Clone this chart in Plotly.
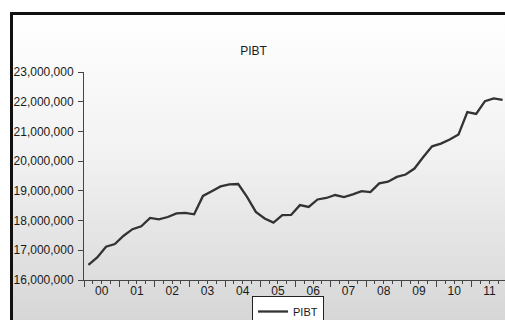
import base64
import plotly.graph_objects as go

# ---- data (quarterly, 2000Q1 - 2011Q4) ----
years = list(range(2000, 2012))
quarters = [1, 2, 3, 4]
pibt = [
    16510000, 16760000, 17120000, 17210000,   # 2000
    17490000, 17710000, 17810000, 18090000,   # 2001
    18040000, 18120000, 18240000, 18260000,   # 2002
    18210000, 18830000, 18990000, 19150000,   # 2003
    19220000, 19230000, 18800000, 18290000,   # 2004
    18070000, 17930000, 18180000, 18190000,   # 2005
    18520000, 18460000, 18710000, 18760000,   # 2006
    18860000, 18790000, 18880000, 18990000,   # 2007
    18960000, 19250000, 19310000, 19470000,   # 2008
    19550000, 19750000, 20140000, 20500000,   # 2009
    20590000, 20730000, 20900000, 21650000,   # 2010
    21590000, 22020000, 22110000, 22060000,   # 2011
]
year_labels = ["00", "01", "02", "03", "04", "05", "06", "07", "08", "09", "10", "11"]
y_ticks = [16000000, 17000000, 18000000, 19000000, 20000000, 21000000, 22000000, 23000000]

# period positions: centre of each quarter on a decimal-year scale
periods = [y + (q - 1) / 4 + 0.125 for y in years for q in quarters]

FONT = "Liberation Sans, Arial, sans-serif"
W, H = 507, 336            # slightly larger than the 505x320 window; excess is cropped
ML, MR, MT, MB = 84, 0, 72, H - 280
PW, PH = W - ML - MR, H - MT - MB

fig = go.Figure()
fig.add_trace(go.Scatter(
    x=periods, y=pibt, mode="lines", name="PIBT",
    line=dict(color="#333333", width=2.3),
))
# helper trace for the label axis
fig.add_trace(go.Scatter(x=[], y=[], xaxis="x2", yaxis="y", showlegend=False, hoverinfo="skip"))

# background: gradient panel with black frame
svg = f'''<svg xmlns="http://www.w3.org/2000/svg" width="{W}" height="{H}" viewBox="0 0 {W} {H}">
<defs><linearGradient id="g" x1="0" y1="0" x2="0" y2="1">
<stop offset="0" stop-color="#ffffff"/><stop offset="0.4" stop-color="#f2f2f2"/>
<stop offset="1" stop-color="#d0d0d0"/></linearGradient></defs>
<rect x="0" y="0" width="{W}" height="{H}" fill="#ffffff"/>
<rect x="11.5" y="13.5" width="{W + 10}" height="{H + 10}" fill="url(#g)" stroke="#111111" stroke-width="3"/>
</svg>'''
src = "data:image/svg+xml;base64," + base64.b64encode(svg.encode()).decode()

fig.update_layout(
    width=W, height=H,
    margin=dict(l=ML, r=MR, t=MT, b=MB, pad=0),
    paper_bgcolor="white",
    plot_bgcolor="white",
    font=dict(family=FONT, color="#1a1a1a", size=12),
    images=[dict(
        source=src, xref="paper", yref="paper",
        x=-ML / PW, y=1 + MT / PH, sizex=W / PW, sizey=H / PH,
        xanchor="left", yanchor="top", sizing="stretch", layer="below",
    )],
    title=dict(text="PIBT", x=0.5, xanchor="center", y=1 - 51 / H, yanchor="middle",
               font=dict(size=12, color="#1a1a1a", family=FONT)),
    xaxis=dict(
        range=[years[0], years[-1] + 1],
        tickmode="array", tickvals=years + [years[-1] + 1],
        showticklabels=False,
        ticks="outside", ticklen=6, tickcolor="#444444", tickwidth=1,
        minor=dict(dtick=0.25, tick0=years[0], ticks="outside", ticklen=3,
                   tickcolor="#444444", tickwidth=1),
        showline=True, linecolor="#444444", linewidth=1,
        showgrid=False, zeroline=False, fixedrange=True,
    ),
    xaxis2=dict(
        range=[years[0], years[-1] + 1], overlaying="x", anchor="y", side="bottom",
        tickmode="array", tickvals=[y + 0.5 for y in years], ticktext=year_labels,
        ticks="", showline=False, showgrid=False, zeroline=False,
        ticklabelstandoff=2,
        tickfont=dict(size=12, color="#1a1a1a", family=FONT),
    ),
    yaxis=dict(
        range=[y_ticks[0], y_ticks[-1]],
        tickmode="array", tickvals=y_ticks, tickformat=",d",
        ticks="outside", ticklen=5, tickcolor="#444444", tickwidth=1,
        showline=True, linecolor="#444444", linewidth=1,
        showgrid=False, zeroline=False, ticklabelstandoff=2,
        tickfont=dict(size=12, color="#1a1a1a", family=FONT),
    ),
    showlegend=True,
    legend=dict(
        orientation="h", x=(288 - ML) / PW, xanchor="center",
        y=-(296 - (H - MB)) / PH, yanchor="top",
        bgcolor="white", bordercolor="#222222", borderwidth=1,
        font=dict(size=11, color="#1a1a1a", family=FONT),
        itemwidth=30, tracegroupgap=0,
    ),
)

fig.write_html(
    "out.html",
    config={"displayModeBar": False},
    post_script="document.body.style.margin='0';document.body.style.overflow='hidden';"
                "document.documentElement.style.overflow='hidden';",
)
